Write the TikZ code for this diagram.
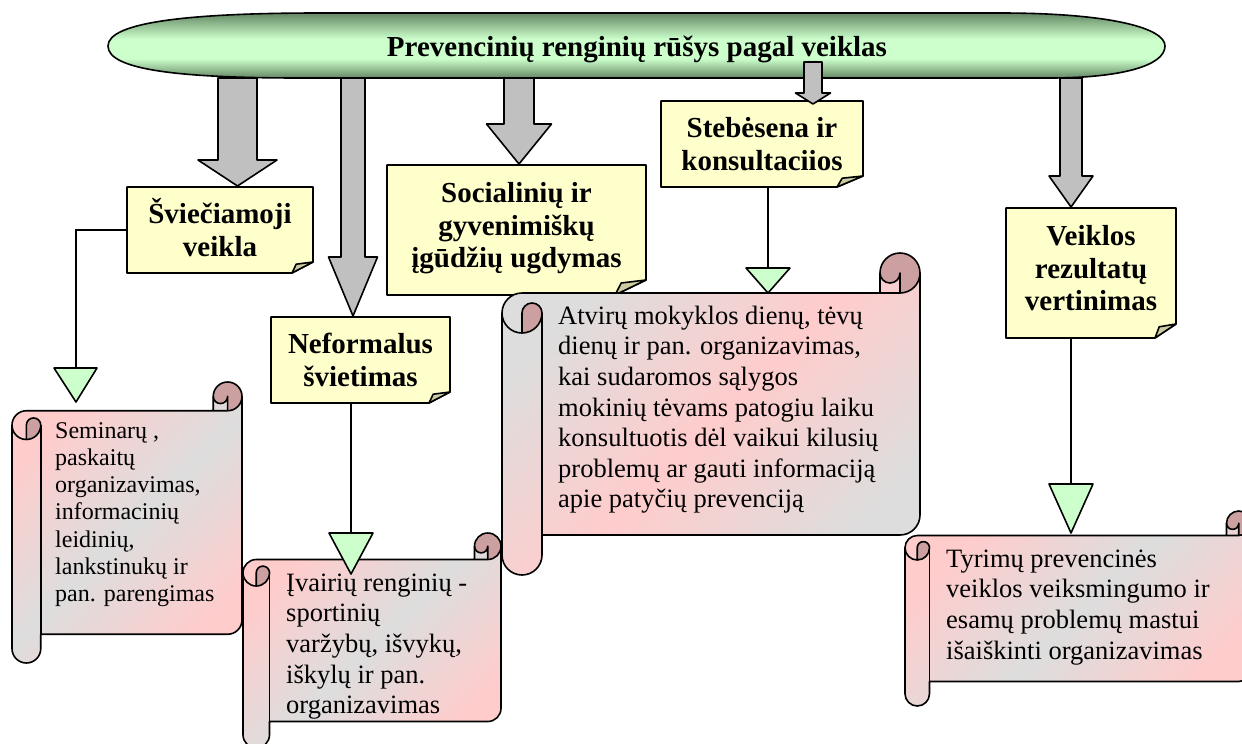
\documentclass[tikz,border=0pt]{standalone}
\usepackage{fontspec}
\setmainfont{Liberation Serif}
\definecolor{boxyellow}{RGB}{255,255,204}
\definecolor{folddark}{RGB}{204,204,163}
\definecolor{arrowgray}{RGB}{192,192,192}
\definecolor{trigreen}{RGB}{204,255,204}
\definecolor{spink}{RGB}{255,204,204}
\definecolor{sgray}{RGB}{221,221,221}
\definecolor{scrolldark}{RGB}{204,160,160}
\definecolor{elldark}{RGB}{100,136,100}
\definecolor{elllight}{RGB}{204,255,204}
\pgfdeclareverticalshading{ellsh}{100bp}{color(0bp)=(elldark); color(25bp)=(elldark); color(40bp)=(elllight); color(55bp)=(elllight); color(75bp)=(elldark); color(100bp)=(elldark)}
\pgfdeclarehorizontalshading{scrollA}{100bp}{color(0bp)=(spink); color(25bp)=(spink); color(50bp)=(sgray); color(75bp)=(spink); color(100bp)=(spink)}
\pgfdeclarehorizontalshading{scrollB}{100bp}{color(0bp)=(sgray); color(25bp)=(sgray); color(50bp)=(spink); color(75bp)=(sgray); color(100bp)=(sgray)}
\newcommand\mytight{\lineskiplimit=-100pt\relax}
% scroll shape: X0 Y0 X1 Y1 d shading
\newcommand\scrollshape[6]{%
 \pgfmathsetmacro\sdh{#5/2}\pgfmathsetmacro\sdq{#5/4}%
 \pgfmathsetmacro\sxa{#1+#5/2}\pgfmathsetmacro\sxb{#1+#5}%
 \pgfmathsetmacro\sxc{#3-#5}\pgfmathsetmacro\sxd{#3-#5/2}%
 \pgfmathsetmacro\sya{#2+#5/2}\pgfmathsetmacro\syb{#2+#5}%
 \pgfmathsetmacro\syc{#2+1.5*#5}\pgfmathsetmacro\sye{#2+2*#5}%
 \pgfmathsetmacro\syf{#4-#5}\pgfmathsetmacro\syg{#4-#5/2}\pgfmathsetmacro\syh{#4-1.5*#5}%
 \path[shade, shading=#6, shading angle=-45] (#3,\sya) arc[start angle=0,end angle=90,radius=\sdh] -- (\sxd,\sya) arc[start angle=0,end angle=180,radius=\sdq] -- (\sxc,\syb) -- (\sxa,\syb) arc[start angle=270,end angle=180,radius=\sdh] -- (#1,\syg) arc[start angle=180,end angle=0,radius=\sdh] -- (\sxb,\syf) -- (\sxd,\syf) arc[start angle=90,end angle=0,radius=\sdh] -- cycle;
 \path[fill=scrolldark] (\sxa,\sye) arc[start angle=90,end angle=0,radius=\sdh] arc[start angle=0,end angle=-180,radius=\sdq] -- cycle;
 \path[fill=scrolldark] (\sxd,\syb) arc[start angle=90,end angle=-180,radius=\sdh] arc[start angle=180,end angle=0,radius=\sdq] -- cycle;
 \draw[outl] (#1,\syc) arc[start angle=180,end angle=270,radius=\sdh] -- (\sxc,\syb) -- (\sxc,\sya) arc[start angle=180,end angle=360,radius=\sdh] -- (#3,\syh) arc[start angle=0,end angle=90,radius=\sdh] -- (\sxb,\syf) -- (\sxb,\syg) arc[start angle=0,end angle=180,radius=\sdh] -- cycle;
 \draw[outl] (\sxc,\syb) -- (\sxd,\syb) arc[start angle=90,end angle=0,radius=\sdh];
 \draw[outl] (\sxd,\syb) -- (\sxd,\sya) arc[start angle=0,end angle=180,radius=\sdq];
 \draw[outl] (\sxa,\sye) -- (\sxa,\syc) arc[start angle=180,end angle=360,radius=\sdq] arc[start angle=0,end angle=180,radius=\sdh];
 \draw[outl] (\sxb,\syc) -- (\sxb,\syf);
}
% folded-corner box: name x0 y0 x1 y1 fx fy depth text
\newcommand\foldbox[9]{%
 \path[outl, fill=boxyellow] (#2,#3) -- (#4,#3) -- (#4,#5-#7) -- (#4-#6,#5) -- (#2,#5) -- cycle;
 \path[outl, fill=folddark] (#4-#6,#5) -- (#4-0.8*#6,#5-0.8*#7) -- (#4,#5-#7) -- cycle;
 \node[boxtext, minimum width={(#4-#2)*1pt}, minimum height={(#5-#3)*1pt}] (#1) at ({(#2+#4)/2},{(#3+#5)/2}) {\rule{0pt}{30pt}#9\rule[-#8pt]{0pt}{#8pt}};
}
% block arrow: cx ytop ybase ytip shafthalf headhalf
\newcommand\blockarr[6]{%
 \path[outl, fill=arrowgray] (#1-#5,#2) -- (#1+#5,#2) -- (#1+#5,#3) -- (#1+#6,#3) -- (#1,#4) -- (#1-#6,#3) -- (#1-#5,#3) -- cycle;
}
\begin{document}
\begin{tikzpicture}[x=1pt,y=1pt,yscale=-1]
\tikzset{
 outl/.style={draw=black, line width=1.6pt, line join=round},
 conn/.style={draw=black, line width=1.8pt},
 tri/.style={outl, fill=trigreen},
 boxtext/.style={font=\fontsize{29}{32.5}\selectfont\bfseries\mytight, align=center, inner sep=0pt},
 scrolltext/.style={font=\fontsize{26.5}{30.6}\selectfont\mytight, align=left, inner sep=0pt, anchor=north west},
 smallscrolltext/.style={font=\fontsize{24}{27.2}\selectfont\mytight, align=left, inner sep=0pt, anchor=north west}
}
\useasboundingbox (0,0) rectangle (1242,744);
\clip (0,0) rectangle (1242,744);
\fill[white] (0,0) rectangle (1242,744);

% title shape
\path[outl, shade, shading=ellsh] (108,46) .. controls (108,22) and (190,13) .. (320,13) -- (1000,13) .. controls (1110,13) and (1165,28) .. (1165,46) .. controls (1165,66) and (1120,78) .. (1050,78) -- (300,78) .. controls (180,78) and (108,70) .. (108,46) -- cycle;
\node[font=\fontsize{29}{33}\selectfont\bfseries, anchor=base, inner sep=0pt] (title) at (637,56) {Prevencinių renginių rūšys pagal veiklas};

% block arrows
\blockarr{237.5}{78}{160}{186}{19.5}{39.5}
\blockarr{353}{78}{257}{316}{12}{24.5}
\blockarr{519}{78}{124}{164}{15}{32.5}
\blockarr{1071}{78}{176}{207}{11}{22}

% category boxes
\foldbox{sv}{127}{187}{313}{273}{21}{11}{10}{Šviečiamoji\\veikla}
\foldbox{nf}{271}{317}{450}{403}{21}{11}{10}{Neformalus\\švietimas}
\foldbox{sg}{387}{165}{646}{295}{31}{15}{20}{Socialinių ir\\gyvenimiškų\\įgūdžių ugdymas}
\foldbox{sk}{661}{101}{863}{187}{26}{11}{10}{Stebėsena ir\\konsultaciios}
\foldbox{vr}{1006}{208}{1176}{338}{21}{14}{20}{Veiklos\\rezultatų\\vertinimas}
\blockarr{813}{62}{93}{104}{9}{17.5}

% connector ends
\coordinate (t1) at (76,368);
\coordinate (t2) at (351,533);
\coordinate (t3) at (768,268);
\coordinate (t4) at (1071,484);
\draw[conn] (sv.west) -| (t1);
\draw[conn] (nf.south -| t2) -- (t2);
\draw[conn] (sk.south -| t3) -- (t3);
\draw[conn] (vr.south -| t4) -- (t4);

% scrolls
\scrollshape{12}{382}{242}{663}{28.75}{scrollA}
\scrollshape{243}{533}{501}{748}{26.5}{scrollA}
\scrollshape{502}{253}{920}{575}{40}{scrollB}
\scrollshape{905}{511}{1251}{706}{24.5}{scrollA}

\node[smallscrolltext] (s1) at (55,415) {\rule{0pt}{23pt}Seminarų ,\\paskaitų\\organizavimas,\\informacinių\\leidinių,\\lankstinukų ir\\pan. parengimas};
\node[scrolltext] (s2) at (286,565) {\rule{0pt}{26pt}Įvairių renginių -\\sportinių\\varžybų, išvykų,\\iškylų ir pan.\\organizavimas};
\node[scrolltext] (s3) at (558,298) {\rule{0pt}{26pt}Atvirų mokyklos dienų, tėvų\\dienų ir pan. organizavimas,\\kai sudaromos sąlygos\\mokinių tėvams patogiu laiku\\konsultuotis dėl vaikui kilusių\\problemų ar gauti informaciją\\apie patyčių prevenciją};
\node[scrolltext] (s4) at (946,541) {\rule{0pt}{26pt}Tyrimų prevencinės\\veiklos veiksmingumo ir\\esamų problemų mastui\\išaiškinti organizavimas};

% green triangles
\path[tri] (54,368) -- (97,368) -- (76,402) -- cycle;
\path[tri] (329,533) -- (373,533) -- (351,574) -- cycle;
\path[tri] (746,268) -- (790,268) -- (768,293) -- cycle;
\path[tri] (1049,484) -- (1093,484) -- (1071,533) -- cycle;
\end{tikzpicture}
\end{document}
